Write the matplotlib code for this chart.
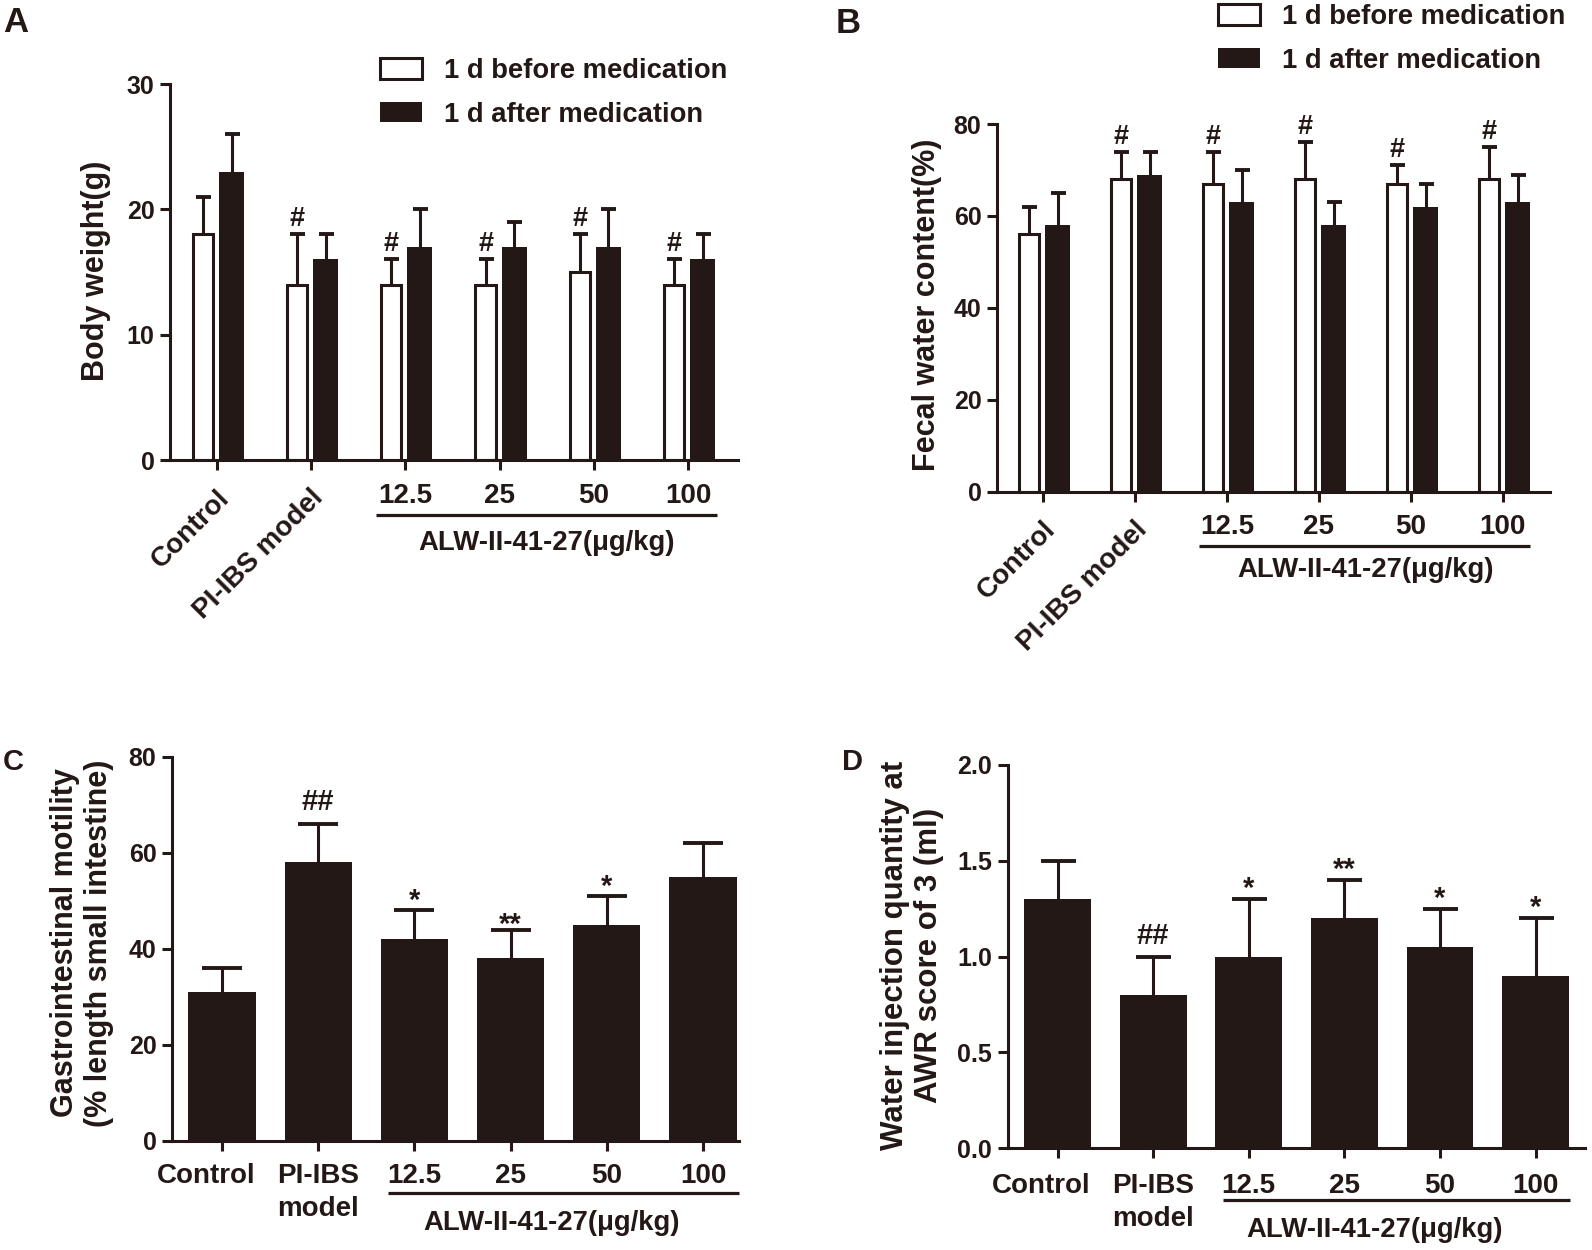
import matplotlib
matplotlib.use('Agg')
import matplotlib.pyplot as plt
import matplotlib.transforms as mtransforms
from matplotlib.ticker import FormatStrFormatter
import numpy as np

plt.rcParams['font.family'] = ['Liberation Sans', 'DejaVu Sans']
plt.rcParams['font.weight'] = 'bold'
plt.rcParams['axes.labelweight'] = 'bold'

INK = '#231815'
W, H = 1592, 1250

# ---------------- data ----------------
groups_ab = ['Control', 'PI-IBS model', '12.5', '25', '50', '100']
groups_cd = ['Control', 'PI-IBS\nmodel', '12.5', '25', '50', '100']
dose_label = 'ALW-II-41-27(μg/kg)'
legend_labels = ['1 d before medication', '1 d after medication']

bw_before = [18, 14, 14, 14, 15, 14]
bw_before_sd = [3, 4, 2, 2, 3, 2]
bw_after = [23, 16, 17, 17, 17, 16]
bw_after_sd = [3, 2, 3, 2, 3, 2]
bw_marks = ['', '#', '#', '#', '#', '#']

fw_before = [56, 68, 67, 68, 67, 68]
fw_before_sd = [6, 6, 7, 8, 4, 7]
fw_after = [58, 69, 63, 58, 62, 63]
fw_after_sd = [7, 5, 7, 5, 5, 6]
fw_marks = ['', '#', '#', '#', '#', '#']

gi_motility = [31, 58, 42, 38, 45, 55]
gi_motility_sd = [5, 8, 6, 6, 6, 7]
gi_marks = ['', '##', '*', '**', '*', '']

awr_volume = [1.30, 0.80, 1.00, 1.20, 1.05, 0.90]
awr_volume_sd = [0.20, 0.20, 0.30, 0.20, 0.20, 0.30]
awr_marks = ['', '##', '*', '**', '*', '*']

fig = plt.figure(figsize=(W / 100, H / 100), dpi=100)
fig.patch.set_facecolor('white')


def px_off(dx, dy):
    """offset transform in pixels (dy positive = up)"""
    return mtransforms.ScaledTranslation(dx / 100, dy / 100, fig.dpi_scale_trans)


def make_ax(left, right, tick0, sp, y0, ytop, ymax, yticks, ytick_fs, xpad):
    ax = fig.add_axes([left / W, 1 - y0 / H, (right - left) / W, (y0 - ytop) / H])
    ax.set_xlim((left - tick0) / sp, (right - tick0) / sp)
    ax.set_ylim(0, ymax)
    ax.set_yticks(yticks)
    for s in ['top', 'right']:
        ax.spines[s].set_visible(False)
    for s in ['left', 'bottom']:
        ax.spines[s].set_linewidth(2.2)
        ax.spines[s].set_color(INK)
    ax.tick_params(axis='both', direction='out', length=7.2, width=2.2, color=INK,
                   labelcolor=INK)
    ax.tick_params(axis='y', labelsize=ytick_fs, pad=4)
    ax.tick_params(axis='x', labelsize=20, pad=xpad)
    ax.set_facecolor('none')
    return ax


def errbars(ax, x, m, sd, capsize, lw=2.2):
    eb = ax.errorbar(x, m, yerr=[np.zeros(len(sd)), sd], fmt='none', ecolor=INK,
                     elinewidth=lw, capsize=capsize, capthick=2.8, zorder=1)
    eb[1][0].set_visible(False)
    return eb


def marks(ax, x, tops, syms, offsets, fs):
    for xi, t, s in zip(x, tops, syms):
        if s:
            ax.annotate(s, xy=(xi, t), xytext=(0, offsets[s] * 0.72),
                        textcoords='offset points', ha='center', va='baseline',
                        fontsize=fs, color=INK, fontweight='bold')


def bracket(ax, x1, x2, dline, xtext, dtext):
    tr = ax.get_xaxis_transform() + px_off(0, -dline)
    ax.plot([x1, x2], [0, 0], color=INK, lw=2.3, transform=tr, clip_on=False,
            solid_capstyle='butt')
    tr2 = ax.get_xaxis_transform() + px_off(0, -dtext)
    ax.text(xtext, 0, dose_label, transform=tr2, ha='center', va='center',
            fontsize=19.8, color=INK, fontweight='bold')


def ylab(ax, text, xc, yc, fs=22, ls=1.15):
    ax.set_ylabel(text, fontsize=fs, color=INK, fontweight='bold', va='center',
                  ha='center', linespacing=ls)
    ax.yaxis.set_label_coords(xc / W, 1 - yc / H, transform=fig.transFigure)


LEG = dict(loc='upper left', bbox_transform=fig.transFigure, frameon=False,
           fontsize=19.7, handlelength=1.55, handleheight=0.78, handletextpad=0.8,
           labelspacing=0.64, borderpad=0, borderaxespad=0, labelcolor=INK)

# ---------------- Panel A ----------------
x = np.arange(len(groups_ab))
axA = make_ax(170, 738, 217, 94.2, 460, 84, 30, [0, 10, 20, 30], 18, 9.2)
bA1 = axA.bar(x - 0.149, bw_before, width=0.215, color='white', edgecolor=INK,
              linewidth=2.2, zorder=2)
bA2 = axA.bar(x + 0.154, bw_after, width=0.265, color=INK, edgecolor=INK,
              linewidth=0, zorder=2)
errbars(axA, x - 0.149, bw_before, bw_before_sd, 5.4)
errbars(axA, x + 0.154, bw_after, bw_after_sd, 5.4)
marks(axA, x - 0.149, np.add(bw_before, bw_before_sd), bw_marks, {'#': 8}, 19.5)
axA.set_xticks(x)
axA.set_xticklabels(groups_ab)
bracket(axA, 1.693, 5.304, 55, 3.50, 83)
ylab(axA, 'Body weight(g)', 96, 271)
axA.legend([bA1, bA2], legend_labels, bbox_to_anchor=(380 / W, 1 - 58 / H), **LEG)

# ---------------- Panel B ----------------
axB = make_ax(997, 1550, 1043, 91.95, 491.7, 124, 80, [0, 20, 40, 60, 80], 18, 9.2)
bB1 = axB.bar(x - 0.152, fw_before, width=0.215, color='white', edgecolor=INK,
              linewidth=2.2, zorder=2)
bB2 = axB.bar(x + 0.161, fw_after, width=0.275, color=INK, edgecolor=INK,
              linewidth=0, zorder=2)
errbars(axB, x - 0.152, fw_before, fw_before_sd, 5.4)
errbars(axB, x + 0.161, fw_after, fw_after_sd, 5.4)
marks(axB, x - 0.152, np.add(fw_before, fw_before_sd), fw_marks, {'#': 8}, 19.5)
axB.set_xticks(x)
axB.set_xticklabels(groups_ab)
bracket(axB, 1.697, 5.296, 54, 3.51, 78)
ylab(axB, 'Fecal water content(%)', 927, 305)
axB.legend([bB1, bB2], legend_labels, bbox_to_anchor=(1218 / W, 1 - 4 / H), **LEG)

# rotate the first two labels of A and B
for ax in (axA, axB):
    for lbl in ax.get_xticklabels()[:2]:
        lbl.set_rotation(45)
        lbl.set_rotation_mode('anchor')
        lbl.set_ha('right')
        lbl.set_va('top')
        lbl.set_transform(lbl.get_transform() + px_off(-1, -2))

# ---------------- Panel C ----------------
axC = make_ax(172, 739, 222, 96.2, 1140.7, 756.7, 80, [0, 20, 40, 60, 80], 18, 8.6)
axC.bar(x, gi_motility, width=0.70, color=INK, linewidth=0, zorder=2)
errbars(axC, x, gi_motility, gi_motility_sd, 14.4)
marks(axC, x, np.add(gi_motility, gi_motility_sd), gi_marks,
      {'##': 14, '*': 1, '**': -3}, 21)
axC.set_xticks(x)
axC.set_xticklabels(groups_cd, linespacing=1.35)
bracket(axC, 1.726, 5.374, 52, 3.43, 82)
ylab(axC, 'Gastrointestinal motility\n(% length small intestine)', 82, 943)

# ---------------- Panel D ----------------
axD = make_ax(1007.5, 1585, 1057.6, 95.6, 1148.3, 765, 2.0,
              [0, 0.5, 1.0, 1.5, 2.0], 18, 10.8)
axD.yaxis.set_major_formatter(FormatStrFormatter('%.1f'))
axD.bar(x, awr_volume, width=0.70, color=INK, linewidth=0, zorder=2)
errbars(axD, x, awr_volume, awr_volume_sd, 12.6)
marks(axD, x, np.add(awr_volume, awr_volume_sd), awr_marks,
      {'##': 13, '*': 2, '**': 2}, 21)
axD.set_xticks(x)
axD.set_xticklabels(groups_cd, linespacing=1.35)
bracket(axD, 1.73, 5.365, 52, 3.32, 82)
ylab(axD, 'Water injection quantity at\nAWR score of 3 (ml)', 912, 955, fs=22.5)

for ax in (axC, axD):
    lbl = ax.get_xticklabels()[0]
    lbl.set_transform(lbl.get_transform() + px_off(-16, 0))

# ---------------- panel letters ----------------
fig.text(3 / W, 1 - 6 / H, 'A', fontsize=25, fontweight='bold', color=INK, va='top', ha='left')
fig.text(836 / W, 1 - 7 / H, 'B', fontsize=25, fontweight='bold', color=INK, va='top', ha='left')
fig.text(3 / W, 1 - 748 / H, 'C', fontsize=21, fontweight='bold', color=INK, va='top', ha='left')
fig.text(842 / W, 1 - 748 / H, 'D', fontsize=21, fontweight='bold', color=INK, va='top', ha='left')

fig.savefig('out.png', dpi=100, facecolor='white')
